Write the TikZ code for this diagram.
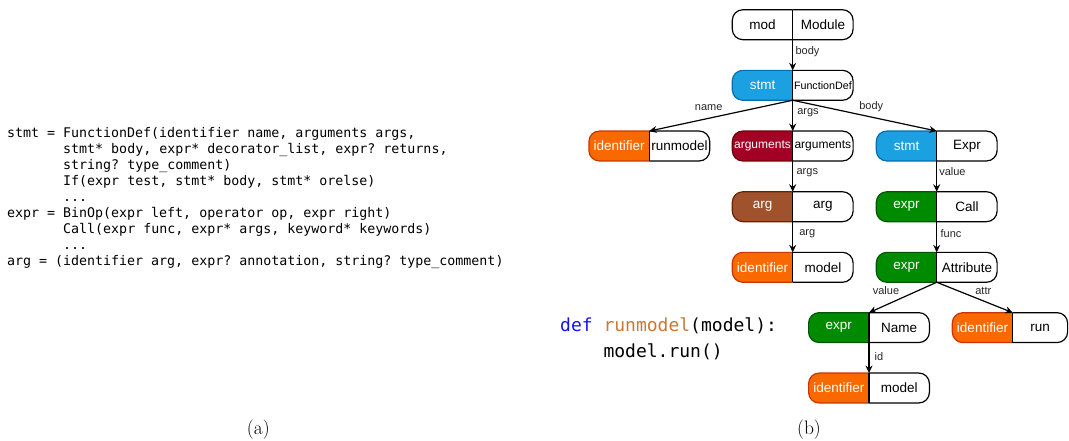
\documentclass[tikz,border=0pt]{standalone}
\usepackage{fontspec}
\usetikzlibrary{arrows.meta,backgrounds}
\newfontfamily\sansface{Liberation Sans}
\newfontfamily\monoface{DejaVu Sans Mono}
\frenchspacing

\definecolor{stmtfill}{HTML}{1BA1E2}  \definecolor{stmtline}{HTML}{006EAF}
\definecolor{argsfill}{HTML}{A20025}  \definecolor{argsline}{HTML}{6F0000}
\definecolor{argfill}{HTML}{A0522D}   \definecolor{argline}{HTML}{6D1F00}
\definecolor{identfill}{HTML}{FA6800} \definecolor{identline}{HTML}{C73500}
\definecolor{exprfill}{HTML}{008A00}  \definecolor{exprline}{HTML}{005700}
\definecolor{pykw}{HTML}{1414F0}      \definecolor{pyfn}{HTML}{CC7832}

\tikzset{
  half/.style={inner sep=0pt, minimum width=60pt, minimum height=29.5pt,
    font=\sansface\fontsize{13.5}{16}\selectfont},
  pilledge/.style={line width=1.2pt, rounded corners=10.5pt},
  link/.style={line width=1.2pt, -{Stealth[length=7.5pt,width=7pt,inset=2.5pt]}},
  elabel/.style={font=\sansface\fontsize{11}{13}\selectfont, text=black!85, inner sep=0pt},
  asdl/.style={font=\monoface\fontsize{13.3}{16}\selectfont, anchor=base west, inner sep=0pt},
  pycode/.style={font=\monoface\fontsize{18}{22}\selectfont, anchor=base west, inner sep=0pt},
  caption/.style={font=\fontsize{19.5}{23}\selectfont, anchor=base, inner sep=0pt},
}

% \astnode[constructor options]{name}{divider point}{fill}{stroke}{kind text colour}{kind}{constructor}
\newcommand\astnode[8][]{%
  \node[half, anchor=east, text=#6] (#2-k) at (#3) {#7};
  \node[half, anchor=west, #1] (#2-c) at (#3) {#8};
  \begin{scope}[on background layer]
    \begin{scope}
      \clip ([shift={(-3pt,3pt)}]#2-k.north west) rectangle ([yshift=-3pt]#2-k.south east);
      \path[pilledge, fill=#4, draw=#5] (#2-k.north west) rectangle (#2-c.south east);
    \end{scope}
    \begin{scope}
      \clip ([yshift=3pt]#2-c.north west) rectangle ([shift={(3pt,-3pt)}]#2-c.south east);
      \path[pilledge, fill=white, draw=black] (#2-k.north west) rectangle (#2-c.south east);
    \end{scope}
    \draw[line width=1.2pt] (#2-k.north east) -- (#2-k.south east);
  \end{scope}
}

\begin{document}
\begin{tikzpicture}[x=1pt, y=-1pt]
\useasboundingbox (0,0) rectangle (1069,440);

% ---- ASDL grammar excerpt ----
\node[asdl] (g0) at (6.9,137.5) {stmt = FunctionDef(identifier name, arguments args,};
\node[asdl] (g1) at (63.0,153.5) {stmt* body, expr* decorator\_list, expr? returns,};
\node[asdl] (g2) at (63.0,169.5) {string? type\_comment)};
\node[asdl] (g3) at (63.0,185.5) {If(expr test, stmt* body, stmt* orelse)};
\node[asdl] (g4) at (63.0,201.5) {...};
\node[asdl] (g5) at (6.9,217.5) {expr = BinOp(expr left, operator op, expr right)};
\node[asdl] (g6) at (63.0,233.5) {Call(expr func, expr* args, keyword* keywords)};
\node[asdl] (g7) at (63.0,249.5) {...};
\node[asdl] (g8) at (6.9,265.5) {arg = (identifier arg, expr? annotation, string? type\_comment)};

% ---- Python source ----
\node[pycode] (py0) at (560,331.7) {\textcolor{pykw}{def} \textcolor{pyfn}{runmodel}(model):};
\node[pycode] (py1) at (603.3,357.4) {model.run()};

% ---- AST ----
\astnode{mod}{792.7,24.7}{white}{black}{black}{mod}{Module}
\astnode{fdef}{792.7,85.3}{stmtfill}{stmtline}{white}{stmt}{\fontsize{10.7}{12}\selectfont FunctionDef}
\astnode{runmodel}{649.3,146}{identfill}{identline}{white}{identifier}{runmodel}
\astnode{arguments}{792.7,146}{argsfill}{argsline}{white}{\fontsize{12}{14}\selectfont arguments}{\fontsize{12}{14}\selectfont arguments}
\astnode{exprstmt}{936.7,146}{stmtfill}{stmtline}{white}{stmt}{Expr}
\astnode{arg}{792.7,206.7}{argfill}{argline}{white}{arg}{arg}
\astnode{call}{936.7,206.7}{exprfill}{exprline}{white}{expr}{Call}
\astnode{argid}{792.7,267.3}{identfill}{identline}{white}{identifier}{model}
\astnode{attr}{936.7,267.3}{exprfill}{exprline}{white}{expr}{Attribute}
\astnode{nameexpr}{869,327.6}{exprfill}{exprline}{white}{expr}{Name}
\astnode[minimum width=54.5pt]{runid}{1012.7,327.6}{identfill}{identline}{white}{identifier}{run}
\astnode{nameid}{869,388}{identfill}{identline}{white}{identifier}{model}

\draw[link] (mod-k.south east) -- node[elabel, pos=0.38, anchor=west, xshift=2.3pt] {body} (fdef-k.north east);
\draw[link] (fdef-k.south east) -- node[elabel, pos=0.5, xshift=-12.3pt, yshift=8.15pt] {name} (runmodel-k.north east);
\draw[link] (fdef-k.south east) -- node[elabel, pos=0.39, anchor=west, xshift=4pt] {args} (arguments-k.north east);
\draw[link] (fdef-k.south east) -- node[elabel, pos=0.5, xshift=6.5pt, yshift=8.55pt] {body} (exprstmt-k.north east);
\draw[link] (arguments-k.south east) -- node[elabel, pos=0.37, anchor=west, xshift=3.3pt] {args} (arg-k.north east);
\draw[link] (arg-k.south east) -- node[elabel, pos=0.39, anchor=west, xshift=6pt] {arg} (argid-k.north east);
\draw[link] (exprstmt-k.south east) -- node[elabel, pos=0.36, anchor=west, xshift=2pt] {value} (call-k.north east);
\draw[link] (call-k.south east) -- node[elabel, pos=0.38, anchor=west, xshift=3.3pt] {func} (attr-k.north east);
\draw[link] (attr-k.south east) -- node[elabel, pos=0.5, xshift=-16.85pt, yshift=6.7pt] {value} (nameexpr-k.north east);
\draw[link] (attr-k.south east) -- node[elabel, pos=0.5, xshift=8.6pt, yshift=6.9pt] {attr} (runid-k.north east);
\draw[link] (nameexpr-k.south east) -- node[elabel, pos=0.46, anchor=west, xshift=5pt] {id} (nameid-k.north east);

% ---- sub-figure captions ----
\node[caption] (capa) at (258.3,434) {(a)};
\node[caption] (capb) at (809,434) {(b)};
\end{tikzpicture}
\end{document}
